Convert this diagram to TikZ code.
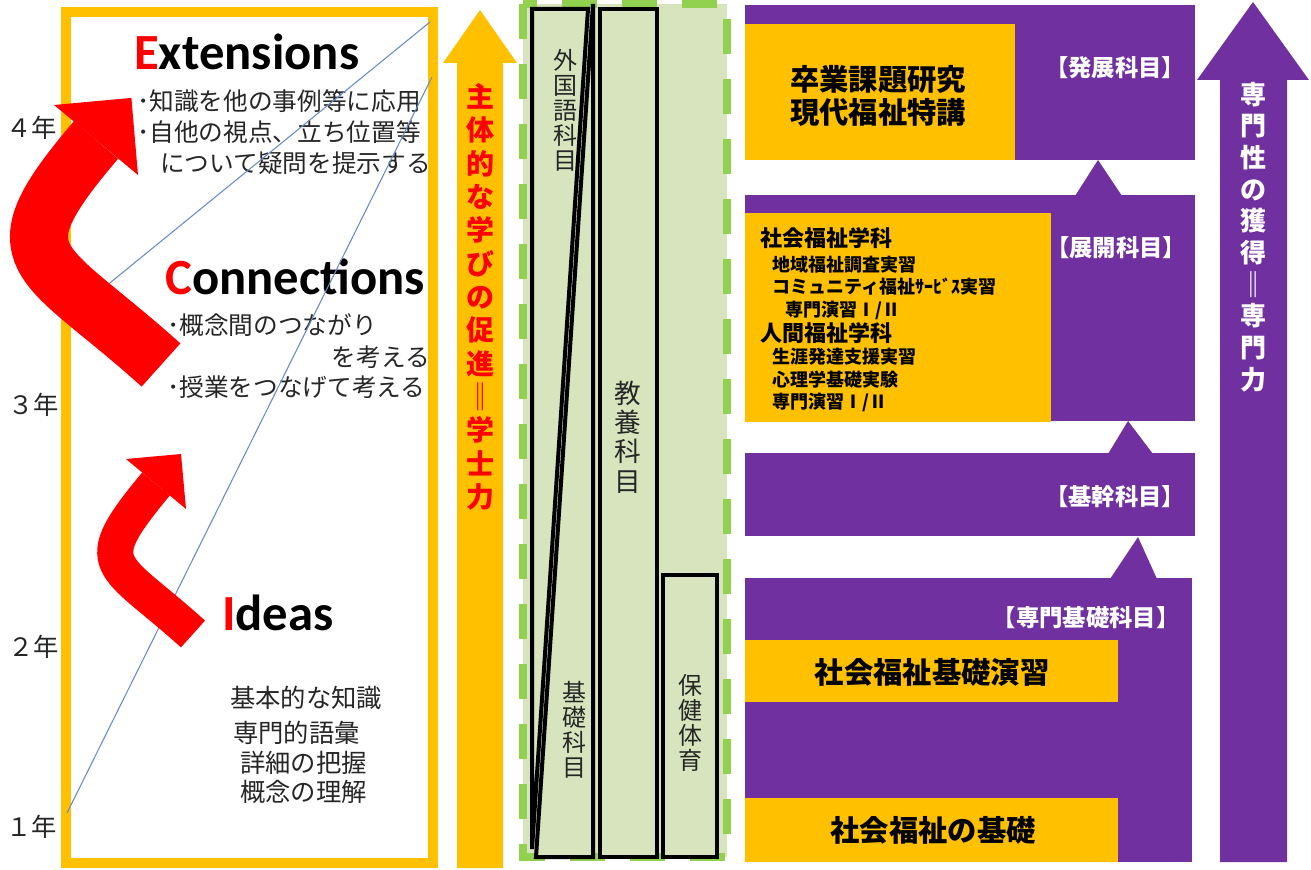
\documentclass[tikz,border=0pt]{standalone}
\usepackage{fontspec}
\setmainfont{Carlito}
\newfontfamily\jpf{Noto Sans CJK JP}
\newfontfamily\latf{Carlito}
\definecolor{gld}{HTML}{FFC000}
\definecolor{vio}{HTML}{7030A0}
\definecolor{lgrn}{HTML}{D7E4BD}
\definecolor{dgrn}{HTML}{92D050}
\definecolor{txt}{HTML}{262626}
\definecolor{bln}{HTML}{6A8CC4}
\begin{document}
\begin{tikzpicture}[x=0.75pt,y=-0.75pt,
  yr/.style={anchor=west,inner sep=0pt,text=txt,font=\jpf\fontsize{19}{19}\selectfont},
  blt/.style={anchor=west,inner sep=0pt,text=txt,font=\jpf\fontsize{18.5}{18.5}\selectfont},
  idl/.style={anchor=west,inner sep=0pt,text=txt,font=\jpf\fontsize{19}{19}\selectfont},
  hdg/.style={anchor=base west,inner sep=0pt,text=black,font=\latf\bfseries\fontsize{38}{38}\selectfont},
  vtxt/.style={align=center,inner sep=0pt,text=txt,font=\jpf\fontsize{18}{18.75}\selectfont},
  colbox/.style={fill=lgrn,draw=black,line width=3pt},
  blk/.style={fill=vio},
  obox/.style={fill=gld},
  wlab/.style={inner sep=0pt,text=white,font=\jpf\bfseries\fontsize{17.5}{17.5}\selectfont},
  otxt/.style={inner sep=0pt,align=center,text=black,font=\jpf\bfseries\fontsize{22}{25}\selectfont},
  dept/.style={anchor=west,inner sep=0pt,text=black,font=\jpf\bfseries\fontsize{16.5}{16.5}\selectfont},
  sub/.style={anchor=west,inner sep=0pt,text=black,font=\jpf\bfseries\fontsize{13.5}{13.5}\selectfont},
  bline/.style={draw=bln,line width=0.8pt},
]
\useasboundingbox (0,0) rectangle (1311,870);
\fill[white] (0,0) rectangle (1311,870);

% ---------- left panel ----------
\draw[gld,line width=7.5pt] (66,12) rectangle (433,863);

\node[yr] (y4) at (6,128) {４年};
\node[yr] (y3) at (8,405) {３年};
\node[yr] (y2) at (8,647) {２年};
\node[yr] (y1) at (6,827) {１年};

\node[hdg] (ext) at (134,70) {\textcolor{red}{E}xtensions};
\node[blt] (e1) at (137,101) {･知識を他の事例等に応用};
\node[blt] (e2) at (137,132) {･自他の視点、立ち位置等};
\node[blt] (e3) at (160,163) {について疑問を提示する};

\node[hdg] (con) at (165,294) {\textcolor{red}{C}onnections};
\node[blt] (c1) at (167,325) {･概念間のつながり};
\node[blt,anchor=east] (c2) at (430,357) {を考える};
\node[blt] (c3) at (167,387) {･授業をつなげて考える};

\node[hdg] (ide) at (222,630) {\textcolor{red}{I}deas};
\node[idl] (i1) at (230,698) {基本的な知識};
\node[idl] (i2) at (233,733) {専門的語彙};
\node[idl] (i3) at (240,763) {詳細の把握};
\node[idl] (i4) at (240,792) {概念の理解};

\coordinate (la) at (430,22);
\coordinate (lb) at (100,291);
\coordinate (lc) at (432,77);
\coordinate (ld) at (67,813);
\draw[bline] (la) -- (lb);
\draw[bline] (lc) -- (ld);

% big red arrow
\draw[red,line width=43.5pt] (161,365) .. controls (40,256) and (-8,262) .. (96,140);
\fill[red] (54,105) -- (131.4,97.9) -- (138,175) -- cycle;
% small red arrow
\draw[red,line width=27pt] (193,634) .. controls (111.6,560.3) and (85.7,568.6) .. (156,484);
\fill[red] (126,459) -- (181,454) -- (186,509) -- cycle;

% ---------- orange arrow ----------
\fill[gld] (457,868) -- (457,63) -- (443,63) -- (480,10) -- (517,63) -- (503,63) -- (503,868) -- cycle;
\node[align=center,inner sep=0pt,text=red,font=\jpf\bfseries\fontsize{21}{25}\selectfont] (gak) at (480,297)
  {主\\体\\的\\な\\学\\び\\の\\促\\進\\‖\\学\\士\\力};

% ---------- green columns ----------
\fill[lgrn] (523,4) rectangle (727,857);
\draw[dgrn,line width=6pt,dash pattern=on 26pt off 19pt] (523,4) rectangle (727,857);
\filldraw[colbox] (532,9) -- (588,9) -- (532,849) -- cycle;
\filldraw[colbox] (593,4) -- (593,857) -- (536,857) -- cycle;
\filldraw[colbox] (600,9) rectangle (657,857);
\filldraw[colbox] (663,575) rectangle (717,857);
\node[vtxt] (gai) at (565,110) {外\\国\\語\\科\\目};
\node[vtxt] (kis) at (574,730) {基\\礎\\科\\目};
\node[vtxt,font=\jpf\fontsize{20}{22}\selectfont] (kyo) at (628,437) {教\\養\\科\\目};
\node[vtxt] (hok) at (690,723) {保\\健\\体\\育};

% ---------- purple blocks ----------
\fill[blk] (745,5) rectangle (1195,160);
\fill[blk] (1075,196) -- (1098,160) -- (1122,196) -- cycle;
\fill[blk] (745,195) rectangle (1195,421);
\fill[blk] (1108,454) -- (1128,421) -- (1153,454) -- cycle;
\fill[blk] (745,453) rectangle (1195,536);
\fill[blk] (1110,579) -- (1138,537) -- (1157,579) -- cycle;
\fill[blk] (745,578) rectangle (1192,862);

\fill[obox] (745,24) rectangle (1015,160);
\fill[obox] (745,213) rectangle (1051,422);
\fill[obox] (745,640) rectangle (1118,702);
\fill[obox] (745,798) rectangle (1118,862);

\node[otxt] (sot) at (878,96) {卒業課題研究\\現代福祉特講};
\node[otxt] (kse) at (932,672) {社会福祉基礎演習};
\node[otxt] (kso) at (933,830) {社会福祉の基礎};

\node[wlab] (hat) at (1115,68) {【発展科目】};
\node[wlab] (ten) at (1116,248) {【展開科目】};
\node[wlab] (kik) at (1115,497) {【基幹科目】};
\node[wlab] (sen) at (1086,618) {【専門基礎科目】};

\node[dept] (d1) at (760,238) {社会福祉学科};
\node[sub] (s1) at (772,265) {地域福祉調査実習};
\node[sub] (s2) at (772,287) {コミュニティ福祉ｻｰﾋﾞｽ実習};
\node[sub] (s3) at (785,310) {専門演習Ⅰ/Ⅱ};
\node[dept] (d2) at (760,333) {人間福祉学科};
\node[sub] (s4) at (772,357) {生涯発達支援実習};
\node[sub] (s5) at (772,380) {心理学基礎実験};
\node[sub] (s6) at (772,402) {専門演習Ⅰ/Ⅱ};

% ---------- purple arrow ----------
\fill[vio] (1220,862) -- (1220,80) -- (1197,80) -- (1253,2) -- (1309,80) -- (1287,80) -- (1287,862) -- cycle;
\node[align=center,inner sep=0pt,text=white,font=\jpf\bfseries\fontsize{19.5}{23.75}\selectfont] (sen2) at (1253,237)
  {専\\門\\性\\の\\獲\\得\\‖\\専\\門\\力};
\end{tikzpicture}
\end{document}
